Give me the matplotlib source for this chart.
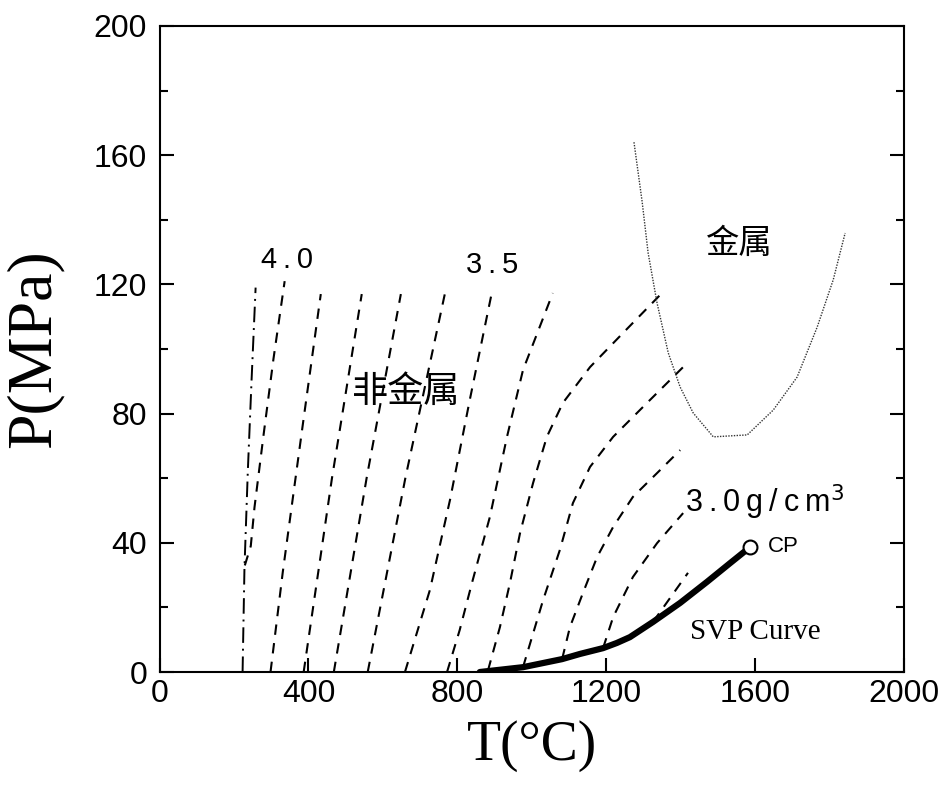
import matplotlib
matplotlib.use("Agg")
import matplotlib.pyplot as plt
import numpy as np

# Melting-type boundary (dash-dot)
melt_T = [223, 228, 237, 247, 258]
melt_P = [0, 32, 62, 90, 119]

# Isochores, density in g/cm3: (T in degC, P in MPa)
iso_40_T = [229, 245, 255, 280, 306, 336]
iso_40_P = [33, 39, 51, 74, 97, 121]
iso_39_T = [298, 331, 384, 433]
iso_39_P = [0, 31, 76, 117]
iso_38_T = [387, 463, 543]
iso_38_P = [0, 60, 117]
iso_37_T = [468, 556, 648]
iso_37_P = [0, 60, 117]
iso_36_T = [559, 660, 766]
iso_36_P = [0, 60, 117]
iso_35_T = [659, 726, 780, 833, 892]
iso_35_P = [0, 25.4, 53.3, 84.2, 117.3]
iso_34_T = [772, 806, 839, 887, 933, 976, 1056]
iso_34_P = [0, 13, 27.6, 48, 72.8, 93.5, 117.3]
iso_33_T = [882, 914, 941, 968, 1003, 1040, 1083, 1156, 1245, 1349]
iso_33_P = [0.5, 13.9, 27.6, 43, 58.5, 72.8, 83.3, 94.4, 105, 117.3]
iso_32_T = [976, 1030, 1075, 1110, 1156, 1218, 1309, 1406]
iso_32_P = [1.5, 22.3, 37.8, 52.3, 63.5, 72.8, 83.3, 94.4]
iso_31_T = [1081, 1102, 1137, 1175, 1218, 1271, 1344, 1398]
iso_31_P = [4.0, 13.9, 24.5, 35.6, 44.9, 54.2, 62.5, 68.7]
iso_30_T = [1191, 1218, 1271, 1336, 1406]
iso_30_P = [7.4, 17, 29.4, 39.9, 49.2]
iso_29_T = [1325, 1419]
iso_29_P = [15.5, 30.7]

isochores = [
    (iso_40_T, iso_40_P), (iso_39_T, iso_39_P), (iso_38_T, iso_38_P),
    (iso_37_T, iso_37_P), (iso_36_T, iso_36_P), (iso_35_T, iso_35_P),
    (iso_34_T, iso_34_P), (iso_33_T, iso_33_P), (iso_32_T, iso_32_P),
    (iso_31_T, iso_31_P), (iso_30_T, iso_30_P), (iso_29_T, iso_29_P),
]

# Saturated vapour pressure curve ending at the critical point
svp_T = [860, 976, 1081, 1129, 1191, 1228, 1263, 1325, 1398, 1470, 1532, 1586]
svp_P = [0, 1.5, 4.0, 5.6, 7.4, 9.0, 10.8, 15.5, 21.4, 27.9, 33.7, 38.7]
cp_T, cp_P = 1586, 38.7

# Metal / non-metal boundary (dotted)
metal_T = [1274, 1296, 1312, 1336, 1366, 1398, 1433, 1487, 1578, 1648,
           1712, 1766, 1809, 1841]
metal_P = [164, 145.5, 129.7, 114.2, 98.8, 88.2, 80.2, 72.8, 73.4, 81.1,
           91.3, 106.8, 121.4, 135.9]

x_ticks = [0, 400, 800, 1200, 1600, 2000]
y_ticks = [0, 40, 80, 120, 160, 200]

sans = ["Liberation Sans", "DejaVu Sans"]
serif = "Liberation Serif"
cjk = ["Noto Sans CJK SC", "DejaVu Sans"]
gap = "\u2009"

fig = plt.figure(figsize=(9.44, 7.86), dpi=100)
ax = fig.add_axes([0.169, 0.145, 0.789, 0.822])

ax.plot(melt_T, melt_P, color="black", lw=1.4, linestyle=(0, (8, 3, 1, 3)))
for T, P in isochores:
    ax.plot(T, P, color="black", lw=1.5, linestyle=(0, (5, 4)))
ax.plot(svp_T, svp_P, color="black", lw=4.5, solid_capstyle="round",
        solid_joinstyle="round")
ax.plot([cp_T], [cp_P], marker="o", ms=10, mfc="white", mec="black", mew=1.5)
ax.plot(metal_T, metal_P, color="#333333", lw=1.0, linestyle=(0, (1, 1)))

ax.set_xlim(0, 2000)
ax.set_ylim(0, 200)
ax.set_xticks(x_ticks)
ax.set_yticks(y_ticks)
ax.set_yticks(np.arange(20, 200, 40), minor=True)
ax.tick_params(which="both", direction="in", top=False, right=True,
               width=1.5, labelsize=23)
ax.tick_params(axis="x", pad=5)
ax.tick_params(axis="y", pad=9)
ax.tick_params(which="major", length=10)
ax.tick_params(which="minor", length=6)
for lab in ax.get_xticklabels() + ax.get_yticklabels():
    lab.set_fontfamily(sans)
for s in ax.spines.values():
    s.set_linewidth(1.5)

ax.set_xlabel("T(°C)", fontsize=40, family=serif, labelpad=8)
ax.set_ylabel("P(MPa)", fontsize=46, family=serif, labelpad=22)

ax.text(341, 127.5, gap.join("4.0"), fontsize=21, family=sans,
        ha="center", va="center")
ax.text(892, 126, gap.join("3.5"), fontsize=21, family=sans,
        ha="center", va="center")
ax.text(1411, 49.5, gap.join("3.0g/cm") + "$^3$", fontsize=22, family=sans,
        ha="left", va="baseline")
ax.text(1634, 39, "CP", fontsize=16, family=sans, ha="left", va="center")
ax.text(1425, 12.4, "SVP Curve", fontsize=21, family=serif, ha="left",
        va="center")
ax.text(661, 86.7, "非金属", fontsize=26, family=cjk, ha="center",
        va="center")
ax.text(1554, 132.8, "金属", fontsize=24, family=cjk, ha="center",
        va="center")

fig.savefig("out.png", dpi=100)
